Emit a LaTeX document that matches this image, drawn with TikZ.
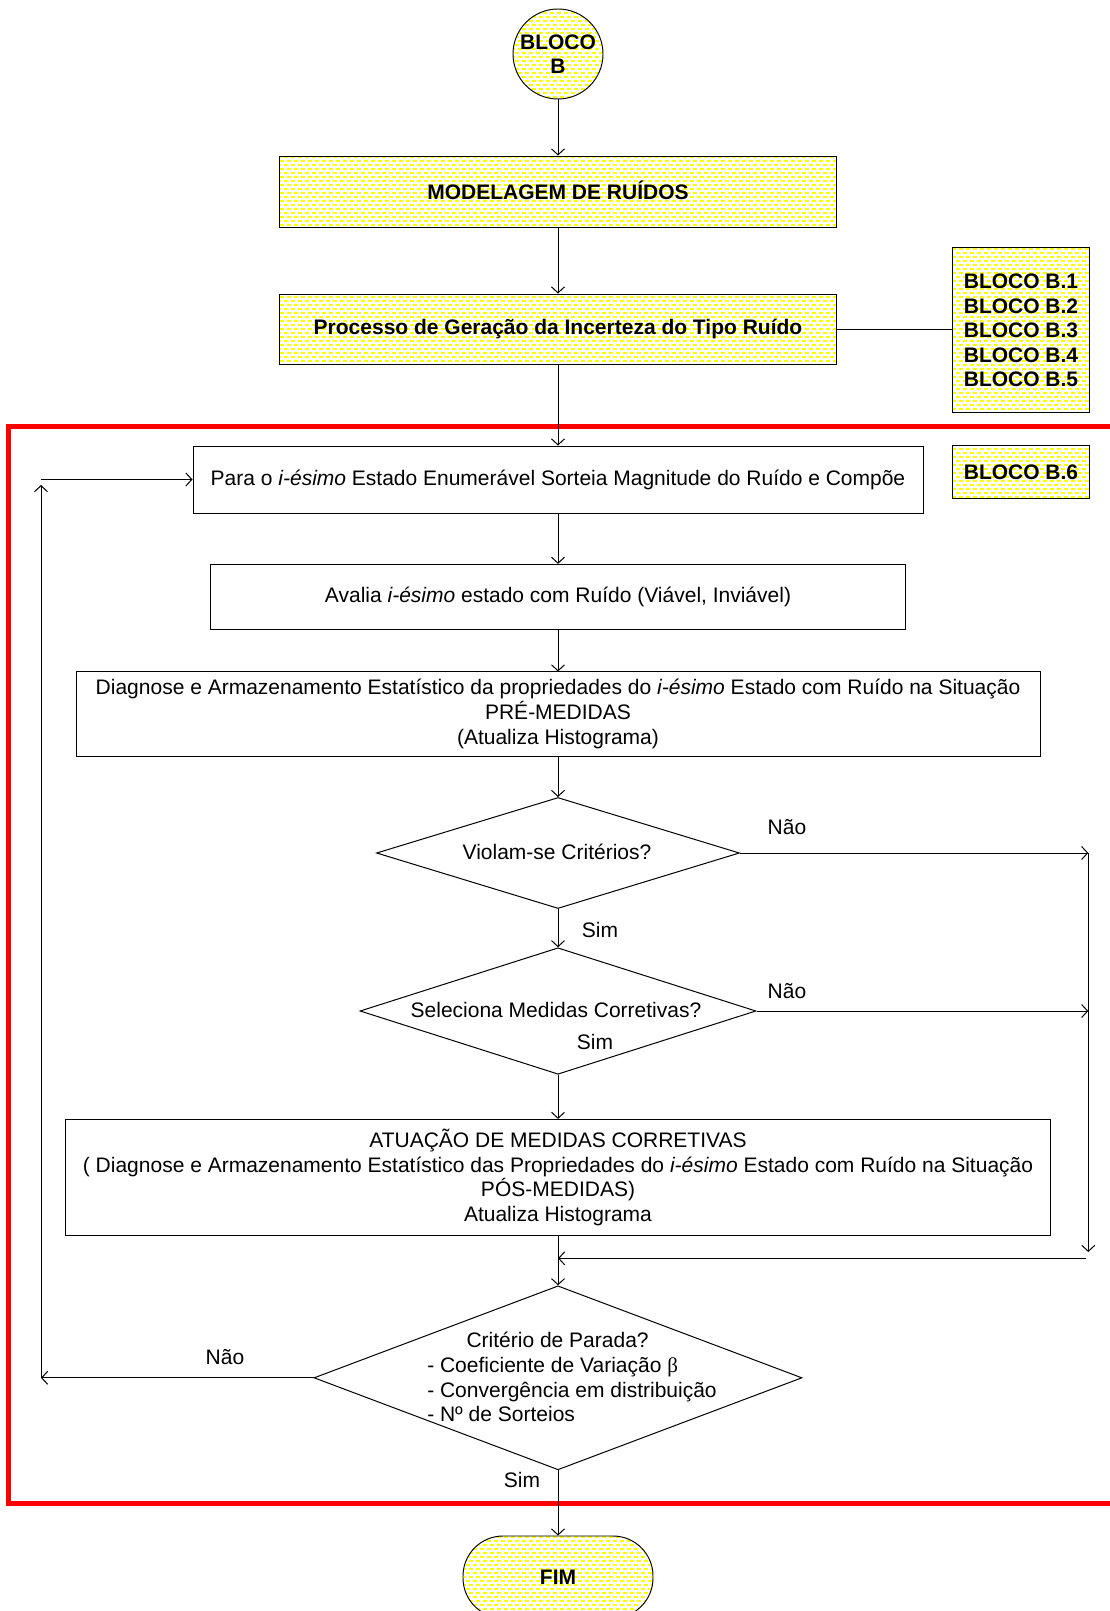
\documentclass[tikz,border=0pt]{standalone}
\usepackage{fontspec}
\setmainfont{Liberation Sans}
\newfontfamily\serifsym{Liberation Serif}
\usetikzlibrary{arrows.meta,shapes.geometric,patterns}

\pgfdeclarepatternformonly{ydash}{\pgfqpoint{-1pt}{-1pt}}{\pgfqpoint{8pt}{9pt}}{\pgfqpoint{7pt}{8pt}}{%
  \pgfsetlinewidth{1.6pt}%
  \pgfpathmoveto{\pgfqpoint{0pt}{2pt}}\pgfpathlineto{\pgfqpoint{4pt}{2pt}}%
  \pgfpathmoveto{\pgfqpoint{3.5pt}{6pt}}\pgfpathlineto{\pgfqpoint{7.5pt}{6pt}}%
  \pgfusepath{stroke}}

\tikzset{
  base/.style={font=\fontsize{21}{24.8}\selectfont},
  box/.style={base, draw, line width=0.95pt, rectangle, inner sep=0pt, align=center},
  ybox/.style={box, pattern=ydash, pattern color=yellow, font=\fontsize{21}{24.4}\selectfont\bfseries},
  dec/.style={draw, line width=1pt, diamond, inner sep=0pt},
  arr/.style={line width=1pt, -{Straight Barb[length=6pt,width=13pt]}},
  lnk/.style={line width=1pt},
  lbl/.style={base, inner sep=0pt}
}

\begin{document}
\begin{tikzpicture}[x=1pt,y=-1pt]
\useasboundingbox (0,0) rectangle (1109,1611);

% red frame
\draw[red, line width=5pt] (1120,426) -- (8.5,426) -- (8.5,1503) -- (1120,1503);

% yellow nodes
\node[ybox, circle, minimum size=90pt] (bB) at (558,54) {BLOCO\\B};
\node[ybox, minimum width=557pt, minimum height=71pt, text depth=3pt] (mod) at (558,191.5) {MODELAGEM DE RUÍDOS};
\node[ybox, minimum width=557pt, minimum height=70pt] (proc) at (558,329) {Processo de Geração da Incerteza do Tipo Ruído};
\node[ybox, minimum width=136.6pt, minimum height=165pt] (b15) at (1021,330.4) {BLOCO B.1\\BLOCO B.2\\BLOCO B.3\\BLOCO B.4\\BLOCO B.5};
\node[ybox, minimum width=136.6pt, minimum height=52.6pt] (b6) at (1021,472) {BLOCO B.6};
\node[ybox, rounded corners=40pt, minimum width=190pt, minimum height=82pt] (fim) at (558,1577) {FIM};

% white boxes
\node[box, minimum width=730pt, minimum height=67pt] (para) at (558,479.5) {Para o \textit{i-ésimo} Estado Enumerável Sorteia Magnitude do Ruído e Compõe};
\node[box, minimum width=695pt, minimum height=64.7pt] (aval) at (558,596.7) {Avalia \textit{i-ésimo} estado com Ruído (Viável, Inviável)};
\node[box, minimum width=964pt, minimum height=84.5pt] (diag) at (558,714.2) {Diagnose e Armazenamento Estatístico da propriedades do \textit{i-ésimo} Estado com Ruído na Situação\\PRÉ-MEDIDAS\\(Atualiza Histograma)};
\node[box, minimum width=984.6pt, minimum height=116pt] (atu) at (558,1177.4) {ATUAÇÃO DE MEDIDAS CORRETIVAS\\( Diagnose e Armazenamento Estatístico das Propriedades do \textit{i-ésimo} Estado com Ruído na Situação\\PÓS-MEDIDAS)\\Atualiza Histograma};

% decisions
\node[dec, minimum width=363pt, minimum height=111pt] (d1) at (558,853) {};
\node[lbl] (d1t) at (557,852) {Violam-se Critérios?};
\node[dec, minimum width=396pt, minimum height=126.5pt] (d2) at (558,1011) {};
\node[lbl] (d2t) at (556,1010) {Seleciona Medidas Corretivas?};
\node[dec, minimum width=488pt, minimum height=184pt] (d3) at (558,1377.8) {};
\node[lbl, align=left] (d3t) at (572,1377) {\hspace*{39.3pt}Critério de Parada?\\- Coeficiente de Variação {\serifsym β}\\- Convergência em distribuição\\- Nº de Sorteios};

% labels
\node[lbl] (n1) at (787,827.5) {Não};
\node[lbl] (n2) at (787,991) {Não};
\node[lbl] (n3) at (225,1357) {Não};
\node[lbl] (s1) at (600,930) {Sim};
\node[lbl] (s2) at (595,1042) {Sim};
\node[lbl] (s3) at (522,1480) {Sim};

% coordinates
\coordinate (c1) at (1088.3,853);
\coordinate (c2) at (1088.3,1011);
\coordinate (c3) at (1088.3,1252);
\coordinate (r1) at (1085.7,1258.3);
\coordinate (r2) at (558,1258.3);
\coordinate (l1) at (41,1377.8);
\coordinate (l2) at (41,485);
\coordinate (l3) at (41,479.5);

% connectors
\draw[arr] (bB) -- (mod);
\draw[arr] (mod) -- (proc);
\draw[arr] (proc) -- (para);
\draw[lnk] (proc.east) -- (b15.west |- proc.east);
\draw[arr] (para) -- (aval);
\draw[arr] (aval) -- (diag);
\draw[arr] (diag) -- (d1.north);
\draw[arr] (d1.south) -- (d2.north);
\draw[arr] (d2.south) -- (atu.north);
\draw[arr] (atu.south) -- (d3.north);
\draw[arr] (d3.south) -- (fim.north);
\draw[arr] (d1.east) -- (c1);
\draw[arr] (d2.east) -- (c2);
\draw[arr] (c1) -- (c3);
\draw[arr] (r1) -- (r2);
\draw[arr] (d3.west) -- (l1);
\draw[arr] (l1) -- (l2);
\draw[arr] (l3) -- (para.west);
\end{tikzpicture}
\end{document}
